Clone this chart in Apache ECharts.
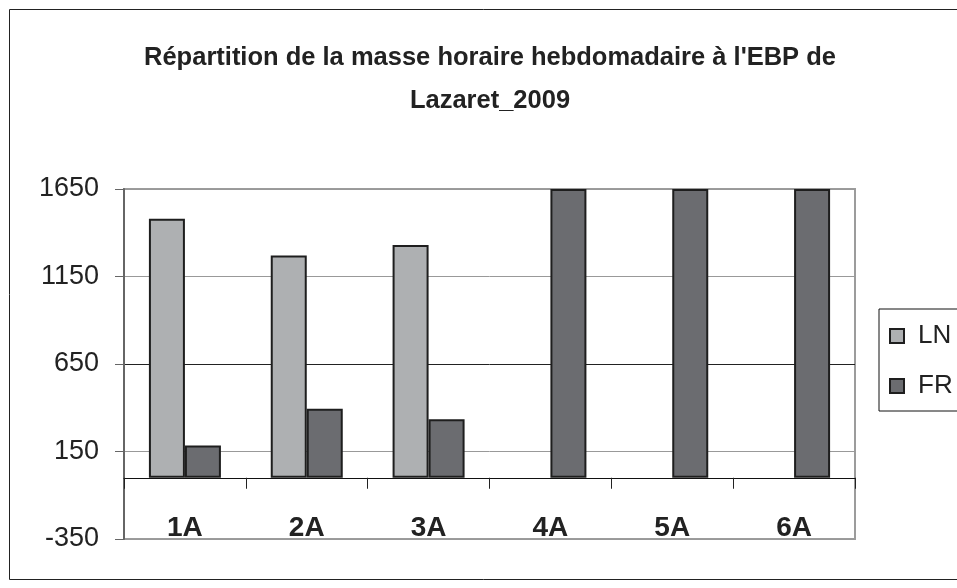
<!DOCTYPE html>
<html>
<head>
<meta charset="utf-8">
<script src="https://cdn.jsdelivr.net/npm/echarts@6/dist/echarts.min.js"></script>
<style>
html,body{margin:0;padding:0;background:#fff;}
#chart{width:957px;height:588px;}
</style>
</head>
<body>
<div id="chart"></div>
<script>
const categories = ['1A', '2A', '3A', '4A', '5A', '6A'];
const lnValues = [1480, 1270, 1330, null, null, null];
const frValues = [185, 395, 335, 1650, 1650, 1650];
const yMin = -350, yMax = 1650, yStep = 500;
const titleText = "Répartition de la masse horaire hebdomadaire à l'EBP de\nLazaret_2009";

const FONT = "'Liberation Sans', Arial, sans-serif";
const chart = echarts.init(document.getElementById('chart'));
chart.setOption({
  backgroundColor: '#fff',
  animation: false,
  title: {
    text: titleText,
    left: 490,
    textAlign: 'center',
    top: 36,
    padding: 0,
    textStyle: { fontFamily: FONT, fontWeight: 'bold', fontSize: 25.5, color: '#222', lineHeight: 43 }
  },
  graphic: [{
    type: 'rect', silent: true,
    shape: { x: 9.5, y: 9.5, width: 1000, height: 570 },
    style: { fill: 'none', stroke: '#222', lineWidth: 1 }
  }],
  legend: {
    orient: 'vertical',
    left: 879, top: 309,
    padding: [14, 20, 12, 10],
    itemGap: 24,
    itemWidth: 14, itemHeight: 14,
    icon: 'rect',
    borderColor: '#111', borderWidth: 1,
    textStyle: { fontFamily: FONT, fontSize: 26, color: '#222', padding: [0, 0, 0, 9] },
    data: ['LN', 'FR']
  },
  grid: {
    left: 124, right: 102, top: 189, bottom: 49,
    containLabel: false,
    outerBoundsMode: 'none',
    show: true, borderColor: '#9c9c9c', borderWidth: 2
  },
  xAxis: {
    type: 'category',
    data: categories,
    axisLine: { onZero: true, lineStyle: { color: '#111', width: 1 } },
    axisTick: { show: true, length: 11, lineStyle: { color: '#222' } },
    axisLabel: { inside: true, margin: -3, fontFamily: FONT, fontWeight: 'bold', fontSize: 28, color: '#222' }
  },
  yAxis: {
    type: 'value',
    min: yMin, max: yMax, interval: yStep,
    axisLine: { show: true, lineStyle: { color: '#666', width: 2 } },
    axisTick: { show: true, length: 9, lineStyle: { color: '#666' } },
    axisLabel: { margin: 25, fontFamily: FONT, fontSize: 27, color: '#222', formatter: v => String(v) },
    splitLine: { show: true, lineStyle: { color: ['#999', '#999', '#222', '#999', '#999'], width: 1 } }
  },
  series: [
    {
      name: 'LN', type: 'bar', data: lnValues,
      barWidth: 36, barGap: '0%',
      itemStyle: { color: '#aeb0b2', borderColor: '#1e1e1e', borderWidth: 2 }
    },
    {
      name: 'FR', type: 'bar', data: frValues,
      barWidth: 36, barGap: '0%',
      itemStyle: { color: '#6b6c70', borderColor: '#1e1e1e', borderWidth: 2 }
    }
  ]
});
</script>
</body>
</html>
